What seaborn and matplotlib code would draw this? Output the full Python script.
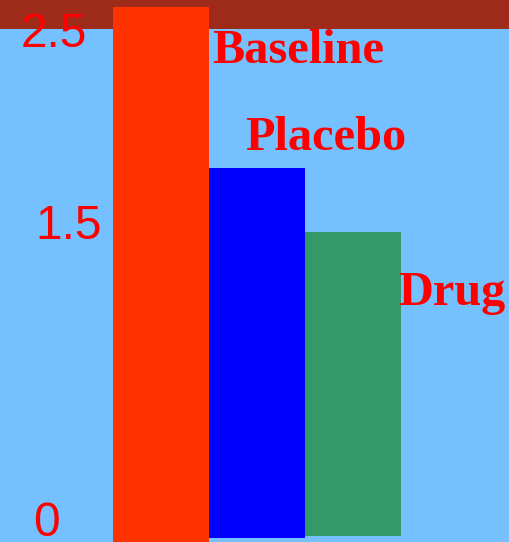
import seaborn as sns
import matplotlib.pyplot as plt
from matplotlib.transforms import blended_transform_factory

# data
groups = ['Baseline', 'Placebo', 'Drug']
values = [2.62, 1.80, 1.47]
bottoms = [-0.2, -0.092, -0.082]
bar_colors = ['#ff3300', '#0000ff', '#339966']
tick_values = [2.5, 1.5, 0]
tick_labels = ['2.5', '1.5', '0']


def main():
    sns.set_style('white')
    fig = plt.figure(figsize=(5.1, 5.42), dpi=100)
    fig.patch.set_facecolor('#75c0ff')
    ax = fig.add_axes([0, 0, 1, 1])
    ax.set_facecolor('#75c0ff')

    heights = [v - b for v, b in zip(values, bottoms)]
    sns.barplot(x=groups, y=heights, hue=groups, palette=bar_colors,
                width=1.0, saturation=1, legend=False, ax=ax, zorder=2)
    for p, b in zip(ax.patches, bottoms):
        p.set_y(b)
        p.set_linewidth(0)

    ax.set_xlim(-1.677, 3.635)
    ax.set_ylim(-0.1125, 2.658)
    ax.axhspan(2.51, 3, color='#9e2a1a', zorder=0, lw=0)

    # value "ticks" drawn as text so they can sit where the reference has them
    trans = blended_transform_factory(ax.transAxes, ax.transData)
    tick_x = [0.106, 0.135, 0.092]
    tick_dy = [-0.02, 0.0, -0.02]
    for tv, tl, tx, dy in zip(tick_values, tick_labels, tick_x, tick_dy):
        ax.text(tx, tv + dy, tl, transform=trans, ha='center', va='center',
                color='#ff0000', fontsize=34.5, family='Liberation Sans', zorder=3)

    # group labels
    label_pos = [(0.53, 2.395), (0.88, 1.955), (2.47, 1.16)]
    for g, (lx, ly) in zip(groups, label_pos):
        ax.text(lx, ly, g, ha='left', va='center', color='#ff0000',
                fontsize=34.8, fontweight='bold', family='Liberation Serif',
                zorder=3)

    ax.set_xticks([])
    ax.set_yticks([])
    ax.set_xlabel('')
    ax.set_ylabel('')
    for s in ax.spines.values():
        s.set_visible(False)

    fig.savefig('out.png', dpi=100, facecolor=fig.get_facecolor())


if __name__ == "__main__":
    main()
